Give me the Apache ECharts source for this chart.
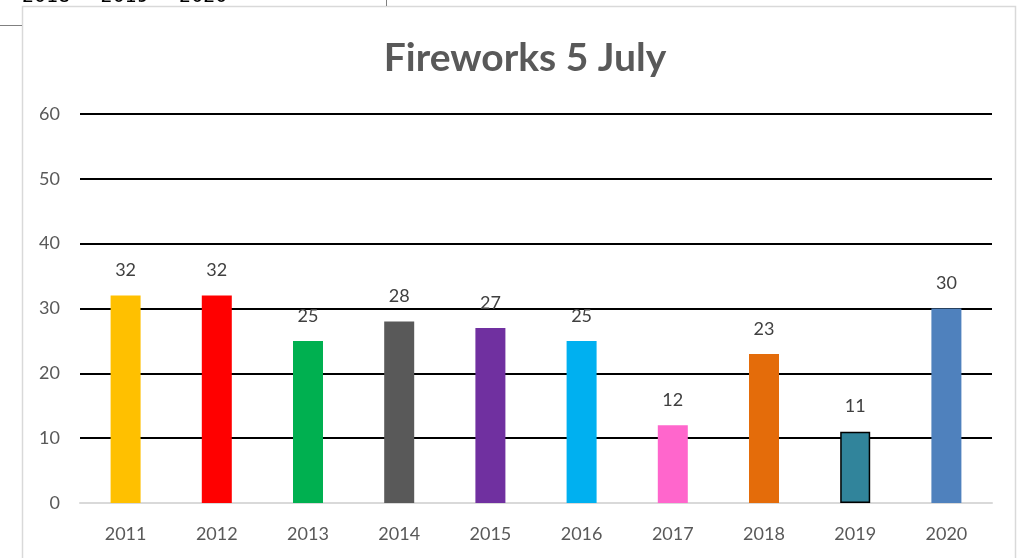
<!DOCTYPE html>
<html>
<head>
<meta charset="utf-8">
<script src="https://cdn.jsdelivr.net/npm/echarts@6/dist/echarts.min.js"></script>
<style>
  html, body { margin: 0; padding: 0; background: #fff; }
  #chart { width: 1020px; height: 558px; }
</style>
</head>
<body>
<div id="chart"></div>
<script>
// data
let years = ["2011", "2012", "2013", "2014", "2015", "2016", "2017", "2018", "2019", "2020"]
let fireworks = [32, 32, 25, 28, 27, 25, 12, 23, 11, 30]
let barColors = ["#ffc000", "#ff0000", "#00b050", "#595959", "#7030a0", "#00b0f0", "#ff66cc", "#e46c0a", "#31849b", "#4f81bd"]
let yTicks = [0, 10, 20, 30, 40, 50, 60]

let font = "Lato, 'Open Sans', sans-serif"
let chart = echarts.init(document.getElementById("chart"))

let option = {
  animation: false,
  title: {
    text: "Fireworks 5 July",
    left: 520, top: 34, textAlign: "center",
    textStyle: { fontFamily: font, fontSize: 39, fontWeight: "bold", color: "#595959" }
  },
  grid: { left: 80, right: 28, top: 114, bottom: 55 },
  xAxis: {
    type: "category",
    data: years,
    axisTick: { show: false },
    axisLine: { lineStyle: { color: "#d9d9d9", width: 2 } },
    axisLabel: { color: "#595959", fontFamily: font, fontSize: 18, margin: 22 }
  },
  yAxis: {
    type: "value",
    min: yTicks[0], max: yTicks[yTicks.length - 1], interval: 10,
    axisLine: { show: false },
    axisTick: { show: false },
    axisLabel: { color: "#595959", fontFamily: font, fontSize: 18, margin: 20 },
    splitLine: { lineStyle: { color: "#000", width: 2 } }
  },
  series: [{
    type: "bar",
    barWidth: 30,
    data: fireworks.map((v, i) => ({
      value: v,
      itemStyle: {
        color: barColors[i],
        borderColor: years[i] == "2019" ? "#000" : barColors[i],
        borderWidth: years[i] == "2019" ? 1.5 : 0
      }
    })),
    label: {
      show: true, position: "top", distance: 16,
      color: "#404040", fontFamily: font, fontSize: 18
    },
    z: 3
  }],
  graphic: [
    { type: "rect", shape: { x: 22.5, y: 6.5, width: 993, height: 560 }, style: { fill: null, stroke: "#d9d9d9", lineWidth: 1.5 }, z: -1 },
    { type: "line", shape: { x1: 0, y1: 25.5, x2: 22, y2: 25.5 }, style: { stroke: "#808080", lineWidth: 1 } },
    { type: "line", shape: { x1: 386.5, y1: 0, x2: 386.5, y2: 6 }, style: { stroke: "#808080", lineWidth: 1 } },
    { type: "text", x: 22, y: 7, style: { text: "2018     2019     2020", fill: "#000", font: "19px 'DejaVu Sans'", verticalAlign: "bottom" } }
  ]
}
chart.setOption(option)
</script>
</body>
</html>
